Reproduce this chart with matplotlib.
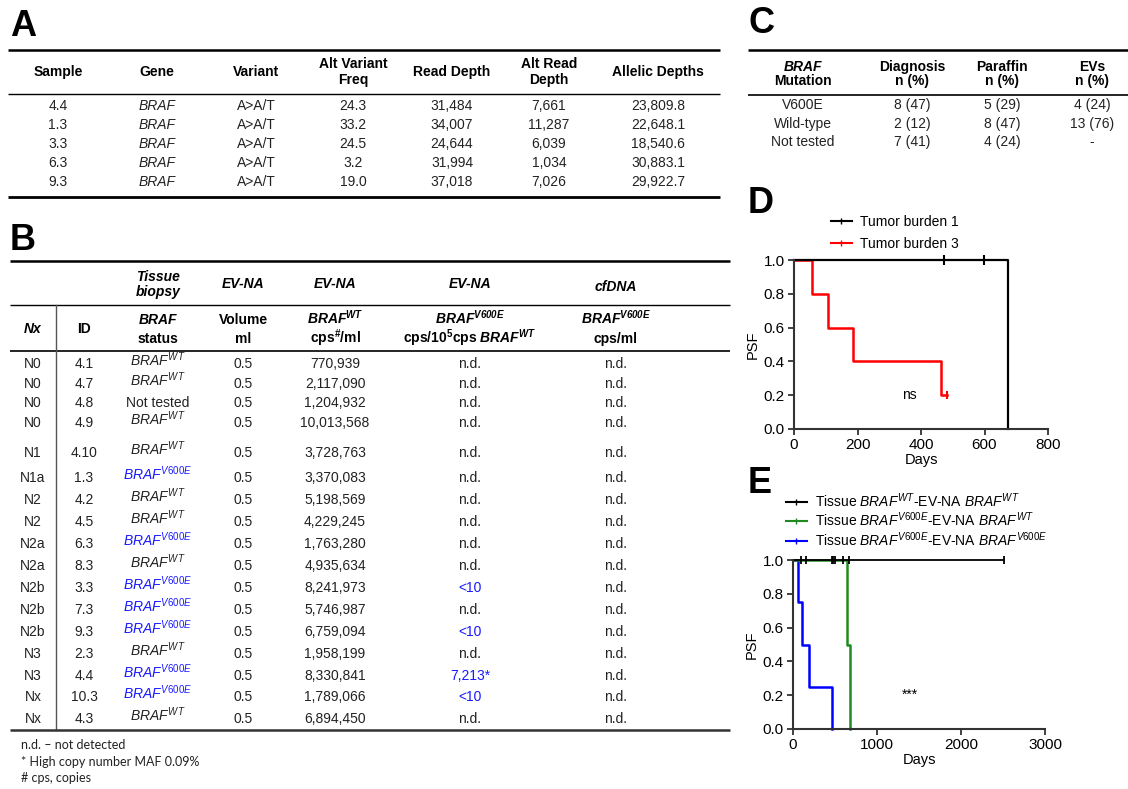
import matplotlib
matplotlib.use("Agg")
import matplotlib.pyplot as plt
from matplotlib.lines import Line2D

plt.rcParams['font.family'] = ['Liberation Sans', 'DejaVu Sans']
plt.rcParams['mathtext.fontset'] = 'custom'
plt.rcParams['mathtext.rm'] = 'Liberation Sans'
plt.rcParams['mathtext.it'] = 'Liberation Sans:italic'
plt.rcParams['mathtext.bf'] = 'Liberation Sans:bold'
plt.rcParams['mathtext.bfit'] = 'Liberation Sans:bold:italic'
plt.rcParams['mathtext.sf'] = 'Liberation Sans'

# ---- data: panel A (NGS)
a_samples = ['4.4', '1.3', '3.3', '6.3', '9.3']
a_gene = 'BRAF'
a_variant = 'A>A/T'
a_alt_freq = [24.3, 33.2, 24.5, 3.2, 19.0]
a_read_depth = [31484, 34007, 24644, 31994, 37018]
a_alt_read_depth = [7661, 11287, 6039, 1034, 7026]
a_allelic_depths = [23809.8, 22648.1, 18540.6, 30883.1, 29922.7]

# ---- data: panel B (patients)
b_nx = ['N0', 'N0', 'N0', 'N0', 'N1', 'N1a', 'N2', 'N2', 'N2a', 'N2a',
        'N2b', 'N2b', 'N2b', 'N3', 'N3', 'Nx', 'Nx']
b_id = ['4.1', '4.7', '4.8', '4.9', '4.10', '1.3', '4.2', '4.5', '6.3', '8.3',
        '3.3', '7.3', '9.3', '2.3', '4.4', '10.3', '4.3']
b_tissue = ['WT', 'WT', 'NT', 'WT', 'WT', 'V600E', 'WT', 'WT', 'V600E', 'WT',
            'V600E', 'V600E', 'V600E', 'WT', 'V600E', 'V600E', 'WT']
b_volume = [0.5] * 17
b_ev_wt = [770939, 2117090, 1204932, 10013568, 3728763, 3370083, 5198569,
           4229245, 1763280, 4935634, 8241973, 5746987, 6759094, 1958199,
           8330841, 1789066, 6894450]
b_ev_v600e = ['n.d.', 'n.d.', 'n.d.', 'n.d.', 'n.d.', 'n.d.', 'n.d.', 'n.d.',
              'n.d.', 'n.d.', '<10', 'n.d.', '<10', 'n.d.', '7,213*', '<10', 'n.d.']
b_cfdna = ['n.d.'] * 17
b_notes = ['n.d. \u2013 not detected', '* High copy number MAF 0.09%', '# cps, copies']

# ---- data: panel C
c_rows = ['V600E', 'Wild-type', 'Not tested']
c_diag = [(8, 47), (2, 12), (7, 41)]
c_paraffin = [(5, 29), (8, 47), (4, 24)]
c_evs = [(4, 24), (13, 76), None]

# ---- data: panel D (Kaplan-Meier, tumor burden)
d_tb1_t = [0, 675, 675]
d_tb1_s = [1.0, 1.0, 0.0]
d_tb1_cens = [472, 598]
d_tb3_t = [0, 56, 108, 187, 463, 483]
d_tb3_s = [1.0, 0.8, 0.6, 0.4, 0.2, 0.2]
d_tb3_cens = [483]
d_tb3_cens_s = [0.2]

# ---- data: panel E
e_wt_t = [0, 2510]
e_wt_s = [1.0, 1.0]
e_wt_cens = [95, 155, 460, 480, 500, 600, 670, 2510]
e_mix_t = [0, 640, 675]
e_mix_s = [1.0, 0.5, 0.0]
e_mut_t = [0, 55, 103, 190, 460]
e_mut_s = [1.0, 0.75, 0.5, 0.25, 0.0]

W, H = 1128, 789
BLUE = '#1a1aff'
INK = '#222222'

fig = plt.figure(figsize=(W / 100, H / 100), dpi=100)
bg = fig.add_axes([0, 0, 1, 1])
bg.set_xlim(0, W)
bg.set_ylim(H, 0)
bg.axis('off')


def hline(y, x0, x1, lw=1.0, color='black'):
    bg.plot([x0, x1], [y, y], color=color, lw=lw, solid_capstyle='butt')


def cell(x, y, s, **kw):
    kw.setdefault('ha', 'center')
    kw.setdefault('va', 'center')
    bg.text(x, y, s, **kw)


def braf(sup, bold=False):
    if bold:
        return r'$\mathbfit{BRAF}^{\mathbfit{%s}}$' % sup
    return r'$\mathit{BRAF}^{\mathit{%s}}$' % sup


# panel letters
for lx, ly, lab in [(10, 26, 'A'), (10, 240, 'B'), (748, 23, 'C'), (748, 203, 'D'), (748, 483, 'E')]:
    bg.text(lx, ly, lab, fontsize=26, fontweight='bold', va='center', ha='left')

# ---------------- table A
a_x = [58, 157, 256, 353, 452, 549, 658]
a_head = ['Sample', 'Gene', 'Variant', 'Alt Variant\nFreq', 'Read Depth', 'Alt Read\nDepth', 'Allelic Depths']
hline(50, 8, 720, lw=1.8)
for x, h in zip(a_x, a_head):
    cell(x, 72, h, fontsize=10, fontweight='bold', linespacing=1.15)
hline(94, 8, 720, lw=1.0)
for i in range(len(a_samples)):
    y = 106 + 19 * i
    vals = [a_samples[i], a_gene, a_variant, f'{a_alt_freq[i]:.1f}',
            f'{a_read_depth[i]:,}', f'{a_alt_read_depth[i]:,}', f'{a_allelic_depths[i]:,.1f}']
    for j, (x, v) in enumerate(zip(a_x, vals)):
        cell(x, y, v, fontsize=10, color=INK, style='italic' if j == 1 else 'normal')
hline(197, 8, 720, lw=2.0)

# ---------------- table B
b_x = [33, 84, 158, 243, 335, 470, 616]
b_row_y = [364, 384, 403, 423, 453, 478, 500, 522, 544, 566, 588, 610, 632, 654, 676, 697, 719]
hline(261, 10, 730, lw=1.8)
hb = dict(fontsize=10, fontweight='bold')
cell(158, 277, 'Tissue', style='italic', **hb)
cell(158, 292, 'biopsy', style='italic', **hb)
for x in b_x[3:6]:
    cell(x, 284, 'EV-NA', style='italic', **hb)
cell(616, 287, 'cfDNA', style='italic', **hb)
hline(305, 10, 730, lw=1.0)
cell(33, 329, 'Nx', style='italic', **hb)
cell(84, 329, 'ID', **hb)
row1 = [('BRAF', 'italic'), ('Volume', 'normal'), (braf('WT', True), 'normal'),
        (braf('V600E', True), 'normal'), (braf('V600E', True), 'normal')]
row2 = ['status', 'ml', r'cps$^{\mathbf{\#}}$/ml',
        r'cps/10$^{\mathbf{5}}$cps ' + braf('WT', True), 'cps/ml']
for x, (t1, st), t2 in zip(b_x[2:], row1, row2):
    cell(x, 324, t1, style=st, **dict(hb, va='baseline'))
    cell(x, 343, t2, **dict(hb, va='baseline'))
hline(351, 10, 730, lw=1.2)
bg.plot([56, 56], [305, 730], color='#555555', lw=1.0)
bb = dict(fontsize=10, color=INK)
for i, y in enumerate(b_row_y):
    cell(b_x[0], y, b_nx[i], **bb)
    cell(b_x[1], y, b_id[i], **bb)
    if b_tissue[i] == 'NT':
        cell(b_x[2], y, 'Not tested', **bb)
    else:
        col = BLUE if b_tissue[i] == 'V600E' else INK
        cell(b_x[2], y + 2, braf(b_tissue[i]), fontsize=10, color=col, va='baseline')
    cell(b_x[3], y, f'{b_volume[i]:.1f}', **bb)
    cell(b_x[4], y, f'{b_ev_wt[i]:,}', **bb)
    ev = b_ev_v600e[i]
    cell(b_x[5], y, ev, fontsize=10, color=INK if ev == 'n.d.' else BLUE)
    cell(b_x[6], y, b_cfdna[i], **bb)
hline(730, 10, 730, lw=1.8, color='#333333')
for k, note in enumerate(b_notes):
    cell(21, 745 + 16.5 * k, note, ha='left', fontsize=9, family=['Lato', 'Liberation Sans'], color=INK)

# ---------------- table C
c_x = [803, 912, 1002, 1092]
hline(50, 748, 1128, lw=1.8)
hc = dict(fontsize=10, fontweight='bold')
cell(c_x[0], 67, 'BRAF', style='italic', **hc)
cell(c_x[0], 81, 'Mutation', **hc)
for x, h in zip(c_x[1:], ['Diagnosis', 'Paraffin', 'EVs']):
    cell(x, 67, h, **hc)
    cell(x, 81, 'n (%)', **hc)
hline(95, 748, 1128, lw=1.2)
for i, r in enumerate(c_rows):
    y = 105 + 18.5 * i
    cell(c_x[0], y, r, fontsize=10, color=INK)
    for x, v in zip(c_x[1:], [c_diag[i], c_paraffin[i], c_evs[i]]):
        cell(x, y, '-' if v is None else f'{v[0]} ({v[1]})', fontsize=10, color=INK)


# ---------------- KM panels
def style_km(ax):
    for sp in ['top', 'right']:
        ax.spines[sp].set_visible(False)
    for sp in ['left', 'bottom']:
        ax.spines[sp].set_linewidth(1.5)
        ax.spines[sp].set_color('#333333')
    ax.tick_params(direction='out', length=4.5, width=1.3, labelsize=11, color='#333333', pad=2)
    ax.set_ylim(0, 1.0)
    ax.set_yticks([0.0, 0.2, 0.4, 0.6, 0.8, 1.0])
    ax.set_yticklabels([f'{v:.1f}' for v in [0.0, 0.2, 0.4, 0.6, 0.8, 1.0]])
    ax.set_ylabel('PSF', fontsize=10.5, labelpad=3)
    ax.set_xlabel('Days', fontsize=10.5, labelpad=1)


axd = fig.add_axes([794 / W, (H - 429) / H, 254 / W, 169 / H])
axd.step(d_tb3_t, d_tb3_s, where='post', color='red', lw=1.8, clip_on=False)
axd.plot(d_tb3_cens, d_tb3_cens_s, '|', color='red', ms=6, mew=1.5, clip_on=False)
axd.plot(d_tb1_t, d_tb1_s, color='black', lw=1.6, clip_on=False)
axd.plot(d_tb1_cens, [1.0] * len(d_tb1_cens), '|', color='black', ms=7, mew=1.5, clip_on=False)
axd.set_xlim(0, 800)
axd.set_xticks([0, 200, 400, 600, 800])
style_km(axd)
axd.text(362, 0.2, 'ns', fontsize=10, ha='center', va='center')
hd = [Line2D([], [], color='black', lw=1.5, marker='|', ms=5),
      Line2D([], [], color='red', lw=1.5, marker='|', ms=5)]
axd.legend(hd, ['Tumor burden 1', 'Tumor burden 3'], loc='upper left',
           bbox_to_anchor=(831 / W, 1 - 215 / H), bbox_transform=fig.transFigure,
           frameon=False, fontsize=10, handlelength=1.5, handletextpad=0.6,
           labelspacing=0.55, borderpad=0, borderaxespad=0, numpoints=1)

axe = fig.add_axes([793 / W, (H - 729) / H, 252 / W, 169 / H])
axe.step(e_mut_t, e_mut_s, where='post', color='blue', lw=1.8, clip_on=False)
axe.step(e_mix_t, e_mix_s, where='post', color='#1f8a1f', lw=1.8, clip_on=False)
axe.plot(e_wt_t, e_wt_s, color='black', lw=1.3, clip_on=False)
axe.plot(e_wt_cens, [1.0] * len(e_wt_cens), '|', color='black', ms=6, mew=1.3, clip_on=False)
axe.set_xlim(0, 3000)
axe.set_xticks([0, 1000, 2000, 3000])
style_km(axe)
axe.text(1393, 0.2, '***', fontsize=10, ha='center', va='center')
he = [Line2D([], [], color='black', lw=1.5, marker='|', ms=5),
      Line2D([], [], color='#1f8a1f', lw=1.5, marker='|', ms=5),
      Line2D([], [], color='blue', lw=1.5, marker='|', ms=5)]
e_labels = ['Tissue ' + braf('WT') + '-EV-NA ' + braf('WT'),
            'Tissue ' + braf('V600E') + '-EV-NA ' + braf('WT'),
            'Tissue ' + braf('V600E') + '-EV-NA ' + braf('V600E')]
axe.legend(he, e_labels, loc='upper left',
           bbox_to_anchor=(786 / W, 1 - 491 / H), bbox_transform=fig.transFigure,
           frameon=False, fontsize=10, handlelength=1.5, handletextpad=0.6,
           labelspacing=0.08, borderpad=0, borderaxespad=0, numpoints=1)

fig.savefig('out.png', dpi=100)
